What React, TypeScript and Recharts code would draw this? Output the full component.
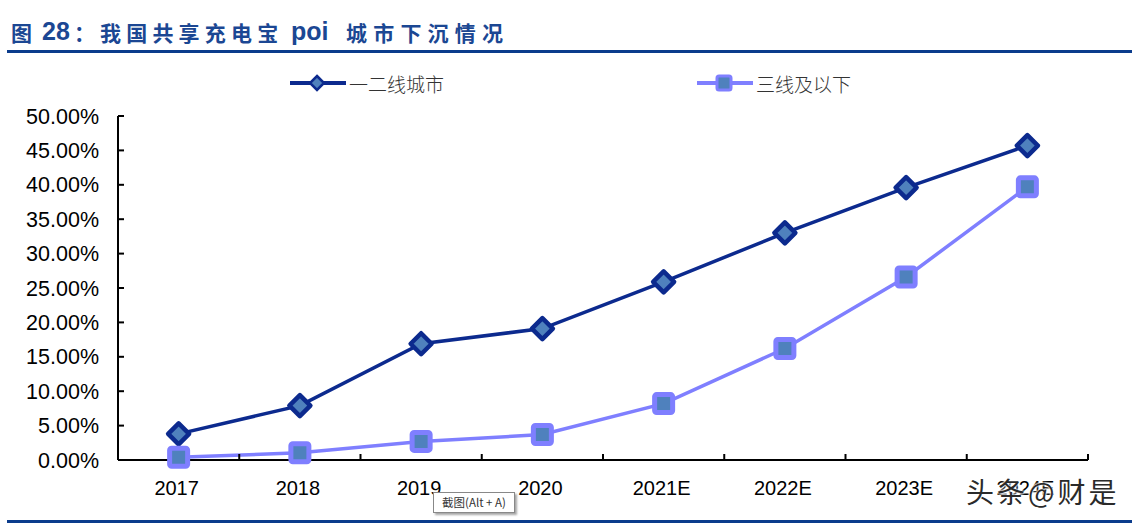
import React from "react";
import { LineChart, Line, XAxis, YAxis } from "recharts";

const categories = ["2017", "2018", "2019", "2020", "2021E", "2022E", "2023E", "2024E"];
const tier12 = [3.8, 7.9, 16.9, 19.1, 25.9, 33.0, 39.6, 45.7];
const tier3Below = [0.4, 1.05, 2.7, 3.7, 8.2, 16.2, 26.6, 39.7];
const yTicks = [0, 5, 10, 15, 20, 25, 30, 35, 40, 45, 50];

const NAVY = "#0C2A8E";
const LILAC = "#7F7FFF";
const FILL = "#4F81BD";
const TITLE = "#1B4793";

const data = categories.map((c, i) => ({ year: c, a: tier12[i], b: tier3Below[i] }));

const Diamond = ({ cx, cy }: any) => {
  if (cx == null || cy == null) return null;
  const r = 10.5;
  return (
    <polygon
      points={`${cx},${cy - r} ${cx + r},${cy} ${cx},${cy + r} ${cx - r},${cy}`}
      fill={FILL}
      stroke={NAVY}
      strokeWidth={4.5}
      strokeLinejoin="round"
    />
  );
};

const Square = ({ cx, cy }: any) => {
  if (cx == null || cy == null) return null;
  const h = 9;
  return (
    <rect
      x={cx - h}
      y={cy - h}
      width={h * 2}
      height={h * 2}
      rx={2}
      fill={FILL}
      stroke={LILAC}
      strokeWidth={5}
    />
  );
};

const XTick = (props: any) => {
  const { x, y, payload } = props;
  const half = payload.offset ?? 60.6;
  return (
    <g>
      <line x1={x + half} x2={x + half} y1={y} y2={y - 6} stroke="#000" strokeWidth={2} />
      <text x={x - 2} y={y + 35} textAnchor="middle" fontSize={20} fill="#000" fontFamily="'Liberation Sans', Arial, sans-serif">
        {payload.value}
      </text>
    </g>
  );
};

const series = [
  { key: "a", name: "一二线城市", color: NAVY, shape: "diamond" },
  { key: "b", name: "三线及以下", color: LILAC, shape: "square" },
];

// title pieces: [text, left, latin?, spacing]
const titleParts: [string, number, boolean, number][] = [
  ["图", 11, false, 0],
  ["28", 42, true, 0],
  ["：", 74, false, 0],
  ["我国共享充电宝", 100, false, 5.2],
  ["poi", 291, true, 0],
  ["城市下沉情况", 346, false, 6.2],
];

export default function App() {
  return (
    <div style={{ position: "absolute", left: 0, top: 0, width: 1132, height: 525, background: "#fff", overflow: "hidden" }}>
      {titleParts.map(([t, left, latin, sp]) => (
        <span
          key={t}
          style={{
            position: "absolute",
            left,
            top: latin ? 16 : 17,
            lineHeight: "30px",
            whiteSpace: "nowrap",
            color: TITLE,
            fontWeight: 700,
            fontFamily: latin ? "'Liberation Sans', Arial, sans-serif" : "'Noto Sans CJK SC', sans-serif",
            fontSize: latin ? 25 : 21,
            letterSpacing: sp,
          }}
        >
          {t}
        </span>
      ))}
      <div style={{ position: "absolute", left: 7, right: 0, top: 50, height: 3, background: "#0B3C8C" }} />
      <div style={{ position: "absolute", left: 7, right: 0, top: 520, height: 3, background: "#0B3C8C" }} />

      {series.map((s, i) => (
        <div
          key={s.key}
          style={{ position: "absolute", left: i === 0 ? 290 : 697, top: 70, height: 26, display: "flex", alignItems: "center" }}
        >
          <svg width={56} height={26}>
            <line x1={0} x2={56} y1={13} y2={13} stroke={s.color} strokeWidth={4} strokeLinecap="round" />
            {s.shape === "diamond" ? (
              <polygon points="27,6 34,13 27,20 20,13" fill={FILL} stroke={s.color} strokeWidth={2.5} />
            ) : (
              <rect x={20} y={6} width={14} height={14} rx={2} fill={FILL} stroke={s.color} strokeWidth={3} />
            )}
          </svg>
          <span
            style={{
              marginLeft: 3,
              fontFamily: "'Noto Sans CJK SC', sans-serif",
              fontSize: 19,
              color: "#333",
              fontWeight: 300,
            }}
          >
            {s.name}
          </span>
        </div>
      ))}

      <div style={{ position: "absolute", left: 0, top: 0 }}>
        <LineChart width={1132} height={525} data={data} margin={{ top: 116, right: 44, bottom: 35, left: 8 }}>
          <XAxis
            dataKey="year"
            scale="band"
            tickLine={false}
            axisLine={{ stroke: "#000", strokeWidth: 2 }}
            tick={<XTick />}
            tickSize={0}
            tickMargin={0}
            height={30}
            interval={0}
          />
          <YAxis
            domain={[0, 50]}
            ticks={yTicks}
            width={110}
            axisLine={{ stroke: "#000", strokeWidth: 2 }}
            tickLine={{ stroke: "#000", strokeWidth: 2 }}
            tickSize={-6}
            tickMargin={25}
            interval={0}
            tickFormatter={(v: number) => `${v.toFixed(2)}%`}
            tick={{ fontSize: 21.5, fill: "#000", fontFamily: "'Liberation Sans', Arial, sans-serif" }}
          />
          <Line
            dataKey="a"
            name="一二线城市"
            stroke={NAVY}
            strokeWidth={3.5}
            dot={<Diamond />}
            activeDot={false}
            isAnimationActive={false}
          />
          <Line
            dataKey="b"
            name="三线及以下"
            stroke={LILAC}
            strokeWidth={3.5}
            dot={<Square />}
            activeDot={false}
            isAnimationActive={false}
          />
        </LineChart>
      </div>

      <div
        style={{
          position: "absolute",
          left: 433,
          top: 492,
          width: 80,
          height: 19,
          border: "1px solid #888",
          background: "#fff",
          boxShadow: "2px 2px 2px rgba(0,0,0,0.35)",
          fontFamily: "'Noto Sans CJK SC', sans-serif",
          fontSize: 11.5,
          lineHeight: "19px",
          textAlign: "center",
          color: "#333",
        }}
      >
        截图(Alt + A)
      </div>
      <div
        style={{
          position: "absolute",
          left: 966,
          top: 473,
          fontFamily: "'Noto Sans CJK SC', sans-serif",
          fontSize: 28,
          letterSpacing: 3,
          lineHeight: "36px",
          color: "#2a2a2a",
          whiteSpace: "nowrap",
          textShadow: "0 0 2px #fff, 0 0 2px #fff, 0 0 3px #fff",
        }}
      >
        头条@财是
      </div>
    </div>
  );
}
